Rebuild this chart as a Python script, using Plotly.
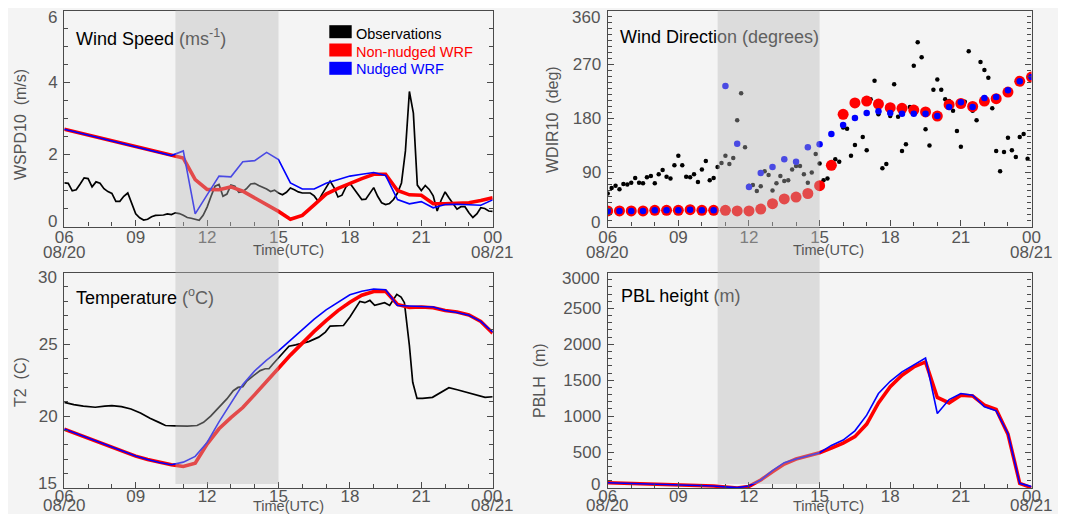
import plotly.graph_objects as go

# rendered figure size (page body margin of 8 px around it inside the 1066x522 window)
W, H = 1050, 506

# ---------------- data ----------------
model_time = [6.0 + 0.5 * i for i in range(37)]      # WRF output every 30 min (hours UTC, 24 = 00 next day)
obs_time = [6.0 + i / 6.0 for i in range(109)]       # observations every 10 min

wspd_obs = [1.21, 1.20, 0.99, 1.02, 1.18, 1.35, 1.33, 1.10, 1.24, 1.20,
            1.05, 0.97, 0.92, 0.70, 0.70, 0.84, 0.93, 0.62, 0.35, 0.24,
            0.18, 0.20, 0.27, 0.31, 0.31, 0.32, 0.35, 0.33, 0.38, 0.36,
            0.31, 0.25, 0.23, 0.20, 0.17, 0.31, 0.54, 0.84, 1.12, 1.17,
            0.84, 0.90, 1.15, 1.12, 0.95, 0.97, 1.06, 1.18, 1.20, 1.14,
            1.10, 1.04, 0.97, 1.01, 0.93, 0.88, 0.95, 1.07, 1.02, 0.96,
            0.93, 0.93, 0.93, 0.85, 0.70, 0.90, 1.10, 1.26, 1.08, 0.82,
            0.87, 1.10, 1.20, 1.05, 0.88, 0.75, 0.76, 0.91, 1.08, 0.84,
            0.66, 0.61, 0.64, 0.75, 0.93, 1.21, 2.10, 3.75, 3.15, 1.15,
            1.00, 1.14, 1.03, 0.85, 0.43, 0.73, 0.96, 0.79, 0.63, 0.48,
            0.55, 0.55, 0.38, 0.25, 0.35, 0.52, 0.50, 0.43, 0.42]
wspd_non = [2.70, 2.62, 2.54, 2.46, 2.38, 2.30, 2.22, 2.13, 2.05, 1.97,
            1.90, 1.30, 1.03, 1.02, 1.10, 0.98, 0.80, 0.61, 0.42, 0.20,
            0.31, 0.60, 0.90, 1.06, 1.20, 1.33, 1.45, 1.45, 1.00, 0.88,
            0.87, 0.63, 0.63, 0.64, 0.66, 0.72, 0.80]
wspd_nud = [2.70, 2.62, 2.54, 2.46, 2.38, 2.30, 2.22, 2.13, 2.05, 1.97,
            2.10, 0.35, 0.88, 1.40, 1.38, 1.80, 1.83, 2.06, 1.86, 1.21,
            1.04, 1.04, 1.20, 1.31, 1.40, 1.45, 1.50, 1.42, 0.75, 0.63,
            0.69, 0.52, 0.61, 0.62, 0.61, 0.59, 0.74]

wdir_obs = [55, 64, 68, 62, 71, 70, 73, 81, 73, 72,
            82, 84, 72, 87, 94, 83, 80, 102, 118, 102,
            83, 82, 87, 74, 95, 109, 77, 81, 99, 106,
            118, 104, 114, 177, 222, 132, 68, 69, 59, 67,
            92, 86, 60, 72, 84, 76, 77, 95, 101, 101,
            87, 73, 90, 121, 105, 77, 80, None, 112, 108,
            165, 163, 118, 136, None, 149, 127, 212, 243, 187,
            97, 104, 184, 237, 183, 126, 137, 199, 268, 307,
            282, 162, 135, 228, 245, 228, 212, 209, 193, 159,
            133, 208, 292, 193, 177, 274, 261, 248, 197, 126,
            92, 124, 148, 127, 116, 149, 154, 113, None]
wdir_non = [26, 26, 26, 26, 27, 27, 27, 28, 27, 27,
            27, 26, 26, 29, 38, 46, 49, 55, 68, 102,
            187, 206, 209, 204, 198, 197, 194, 191, 184, 203,
            205, 200, 209, 213, 224, 242, 249]
wdir_nud = [26, 26, 26, 26, 27, 27, 27, 28, 27, 27,
            234, 138, 66, 89, 99, 112, 108, 132, 137, 154,
            169, 181, 189, 192, 189, 188, 188, 188, 184, 199,
            207, 199, 214, 216, 227, 242, 249]

t2_obs_time = [6.0, 6.4, 6.8, 7.3, 7.7, 8.0, 8.4, 8.8, 9.2, 9.6,
               10.0, 10.25, 10.67, 11.17, 11.58, 11.85, 12.15, 12.55, 12.83, 13.1,
               13.3, 13.5, 13.67, 13.95, 14.23, 14.44, 14.6, 14.75, 15.03, 15.25,
               15.44, 15.72, 16.0, 16.27, 16.69, 16.97, 17.17, 17.45, 17.73, 18.0,
               18.21, 18.42, 18.63, 18.84, 19.04, 19.25, 19.46, 19.67, 19.8, 19.97,
               20.15, 20.29, 20.5, 20.64, 20.82, 21.05, 21.47, 21.81, 22.16, 22.51,
               22.92, 23.34, 23.68, 24.0]
t2_obs = [20.96, 20.80, 20.70, 20.62, 20.70, 20.73, 20.66, 20.50, 20.22, 19.85,
          19.55, 19.35, 19.33, 19.30, 19.35, 19.57, 20.00, 20.68, 21.20, 21.77,
          22.00, 22.05, 22.45, 22.82, 23.17, 23.30, 23.30, 23.60, 24.10, 24.50,
          24.87, 24.96, 25.10, 25.19, 25.50, 25.85, 26.27, 26.27, 26.31, 26.90,
          27.48, 27.99, 27.90, 28.06, 27.71, 27.83, 27.90, 27.71, 28.06, 28.48,
          28.29, 27.90, 24.91, 22.36, 21.24, 21.24, 21.31, 21.66, 21.98, 21.84,
          21.66, 21.47, 21.31, 21.35]
t2_non = [19.10, 18.78, 18.47, 18.15, 17.82, 17.52, 17.22, 16.98, 16.77, 16.62,
          16.50, 16.72, 18.06, 19.12, 19.90, 20.60, 21.50, 22.45, 23.33, 24.25,
          25.10, 25.90, 26.65, 27.35, 27.93, 28.42, 28.68, 28.70, 27.78, 27.56,
          27.60, 27.55, 27.35, 27.25, 27.05, 26.60, 25.78]
t2_nud = [19.10, 18.78, 18.47, 18.15, 17.82, 17.52, 17.22, 16.98, 16.77, 16.62,
          16.80, 17.20, 18.17, 19.60, 20.95, 22.20, 23.15, 23.90, 24.55, 25.30,
          26.00, 26.75, 27.40, 27.95, 28.45, 28.70, 28.85, 28.80, 27.70, 27.67,
          27.64, 27.60, 27.35, 27.22, 27.03, 26.60, 25.85]

pblh_non = [74, 70, 65, 60, 55, 50, 45, 38, 32, 28,
            15, 0, 22, 111, 226, 333, 403, 444, 491, 555,
            625, 715, 890, 1185, 1410, 1570, 1685, 1755, 1260, 1185,
            1292, 1282, 1153, 1093, 750, 65, 5]
pblh_nud = [74, 70, 65, 60, 55, 50, 45, 38, 32, 28,
            15, 5, 28, 111, 241, 352, 403, 444, 491, 593,
            667, 796, 1014, 1315, 1486, 1616, 1718, 1810, 1037, 1231,
            1315, 1292, 1130, 1074, 759, 65, 19]

x_tickvals = [6, 9, 12, 15, 18, 21, 24]
x_ticktext = ["06", "09", "12", "15", "18", "21", "00"]
date_start, date_end = "08/20", "08/21"
shade_start, shade_end = 10.67, 15.0

wspd_ticks = [0, 2, 4, 6]
wdir_ticks = [0, 90, 180, 270, 360]
t2_ticks = [15, 20, 25, 30]
pblh_ticks = [0, 500, 1000, 1500, 2000, 2500, 3000]

series_names = ["Observations", "Non-nudged WRF", "Nudged WRF"]
series_colors = ["#000000", "#ff0000", "#0000ff"]

# ---------------- layout helpers ----------------
OFF = 8  # page body margin: the figure starts 8 px right / down in the screenshot


def px_x(p):
    return (p - OFF) / W


def px_y(p):
    return 1 - (p - OFF) / H


LEFT = [px_x(64.3), px_x(492.7)]
RIGHT = [px_x(607.7), px_x(1031.5)]
TOP = [px_y(226.5), px_y(10.5)]
BOT = [px_y(488.0), px_y(272.5)]

FONT = "Liberation Sans, Arial, sans-serif"
GRAY = "#555555"
FRAME = "#4a4a4a"

fig = go.Figure()

# panel 1 : wind speed
fig.add_trace(go.Scatter(x=obs_time, y=wspd_obs, mode="lines", line=dict(color="#000000", width=1.7),
                         xaxis="x", yaxis="y", showlegend=False))
fig.add_trace(go.Scatter(x=model_time, y=wspd_non, mode="lines", line=dict(color="#ff0000", width=3.6),
                         xaxis="x", yaxis="y", showlegend=False))
fig.add_trace(go.Scatter(x=model_time, y=wspd_nud, mode="lines", line=dict(color="#0000ff", width=1.6),
                         xaxis="x", yaxis="y", showlegend=False))
# panel 2 : wind direction
fig.add_trace(go.Scatter(x=obs_time, y=wdir_obs, mode="markers", marker=dict(color="#000000", size=4.5),
                         xaxis="x2", yaxis="y2", showlegend=False))
fig.add_trace(go.Scatter(x=model_time, y=wdir_non, mode="markers", marker=dict(color="#ff0000", size=11),
                         xaxis="x2", yaxis="y2", showlegend=False))
fig.add_trace(go.Scatter(x=model_time, y=wdir_nud, mode="markers", marker=dict(color="#0000ff", size=6.5),
                         xaxis="x2", yaxis="y2", showlegend=False))
# panel 3 : temperature
fig.add_trace(go.Scatter(x=t2_obs_time, y=t2_obs, mode="lines", line=dict(color="#000000", width=1.7),
                         xaxis="x3", yaxis="y3", showlegend=False))
fig.add_trace(go.Scatter(x=model_time, y=t2_non, mode="lines", line=dict(color="#ff0000", width=3.6),
                         xaxis="x3", yaxis="y3", showlegend=False))
fig.add_trace(go.Scatter(x=model_time, y=t2_nud, mode="lines", line=dict(color="#0000ff", width=1.6),
                         xaxis="x3", yaxis="y3", showlegend=False))
# panel 4 : PBL height
fig.add_trace(go.Scatter(x=model_time, y=pblh_non, mode="lines", line=dict(color="#ff0000", width=3.6),
                         xaxis="x4", yaxis="y4", showlegend=False))
fig.add_trace(go.Scatter(x=model_time, y=pblh_nud, mode="lines", line=dict(color="#0000ff", width=1.6),
                         xaxis="x4", yaxis="y4", showlegend=False))


def xaxis(domain, anchor, standoff):
    return dict(domain=domain, anchor=anchor, range=[6, 24], tickmode="array",
                tickvals=x_tickvals, ticktext=x_ticktext, ticks="inside", ticklen=6,
                tickwidth=1.2, tickcolor=FRAME, showline=True, linecolor=FRAME, linewidth=1.3,
                mirror=True, showgrid=False, zeroline=False, ticklabelstandoff=standoff, automargin=False,
                minor=dict(tickmode="linear", tick0=6, dtick=1, ticks="inside", ticklen=4, tickwidth=1,
                           tickcolor=FRAME, showgrid=False),
                tickfont=dict(family=FONT, size=17, color=GRAY), fixedrange=True)


def yaxis(domain, anchor, ticks, mdtick):
    # interior labels by the axis; the two end labels are inset like in the original (see annotations)
    return dict(domain=domain, anchor=anchor, range=[ticks[0], ticks[-1]], tickmode="array",
                tickvals=ticks[1:-1], ticktext=[str(t) for t in ticks[1:-1]],
                ticks="inside", ticklen=6, tickwidth=1.2, tickcolor=FRAME,
                showline=True, linecolor=FRAME, linewidth=1.3, mirror="ticks",
                showgrid=False, zeroline=False, ticklabelstandoff=2, automargin=False,
                minor=dict(tickmode="linear", dtick=mdtick, tick0=ticks[0], ticks="inside", ticklen=4,
                           tickwidth=1, tickcolor=FRAME, showgrid=False),
                tickfont=dict(family=FONT, size=17, color=GRAY), fixedrange=True)


fig.update_layout(
    width=W, height=H, margin=dict(l=0, r=0, t=0, b=0, autoexpand=False), autosize=False,
    paper_bgcolor="#f4f4f4", plot_bgcolor="rgba(0,0,0,0)", showlegend=False,
    xaxis=xaxis(LEFT, "y", -5), yaxis=yaxis(TOP, "x", wspd_ticks, 0.5),
    xaxis2=xaxis(RIGHT, "y2", -5), yaxis2=yaxis(TOP, "x2", wdir_ticks, 10),
    xaxis3=xaxis(LEFT, "y3", -8), yaxis3=yaxis(BOT, "x3", t2_ticks, 1),
    xaxis4=xaxis(RIGHT, "y4", -8), yaxis4=yaxis(BOT, "x4", pblh_ticks, 100),
)

shapes = []
# shaded analysis window, drawn on top of everything (semi-transparent)
for xr in ["x", "x2"]:
    shapes.append(dict(type="rect", xref=xr, yref="paper", x0=shade_start, x1=shade_end,
                       y0=px_y(484), y1=px_y(10.5), fillcolor="rgba(184,184,184,0.40)",
                       line=dict(width=0), layer="above"))
# legend swatches
for i, c in enumerate(series_colors):
    yc = [31.7, 50.0, 68.3][i]
    shapes.append(dict(type="rect", xref="paper", yref="paper", x0=px_x(329.3), x1=px_x(351.7),
                       y0=px_y(yc + 6.5), y1=px_y(yc - 6.5), fillcolor=c, line=dict(width=0), layer="above"))
fig.update_layout(shapes=shapes)

SH = "#606060"   # text colour under the shading
ann = []


def A(text, x, y, size, color="#000000", xanchor="left", angle=0):
    ann.append(dict(text=text, x=px_x(x), y=px_y(y), xref="paper", yref="paper", showarrow=False,
                    xanchor=xanchor, yanchor="middle", textangle=angle,
                    font=dict(family=FONT, size=size, color=color)))


A("Wind Speed <span style='color:%s'>(ms<sup>-1</sup>)</span>" % SH, 74, 37, 18)
A("Wind Directi<span style='color:%s'>on (degrees)</span>" % SH, 618, 37, 18)
A("Temperature <span style='color:%s'>(<sup>o</sup>C)</span>" % SH, 74, 296, 18)
A("PBL height <span style='color:%s'>(m)</span>" % SH, 619, 296, 18)

A("WSPD10  (m/s)", 20, 125, 16, GRAY, "center", -90)
A("WDIR10  (deg)", 552, 120, 16, GRAY, "center", -90)
A("T2  (C)", 20, 382, 16, GRAY, "center", -90)
A("PBLH  (m)", 539, 381, 16, GRAY, "center", -90)

# inset end labels of the y axes
for ticks, xr, ytop, ybot in [(wspd_ticks, 59, 17, 221), (wdir_ticks, 602, 17, 222),
                              (t2_ticks, 59, 277, 483), (pblh_ticks, 602, 278, 484)]:
    A(str(ticks[-1]), xr, ytop, 17, GRAY, "right")
    A(str(ticks[0]), xr, ybot, 17, GRAY, "right")

for xc, yc in [(288, 250), (828, 250), (288, 506), (828, 506)]:
    A("Time(UTC)", xc, yc, 14.5, GRAY, "center")
for xs, xe, yc in [(64, 492, 252), (607, 1031, 252), (64, 492, 505), (607, 1031, 505)]:
    A(date_start, xs, yc, 17, GRAY, "center")
    A(date_end, xe, yc, 17, GRAY, "center")

for i, (n, c) in enumerate(zip(series_names, series_colors)):
    A(n, 354, [33.5, 51.5, 69.5][i], 14.5, c)

fig.update_layout(annotations=ann)
fig.write_html("out.html")
